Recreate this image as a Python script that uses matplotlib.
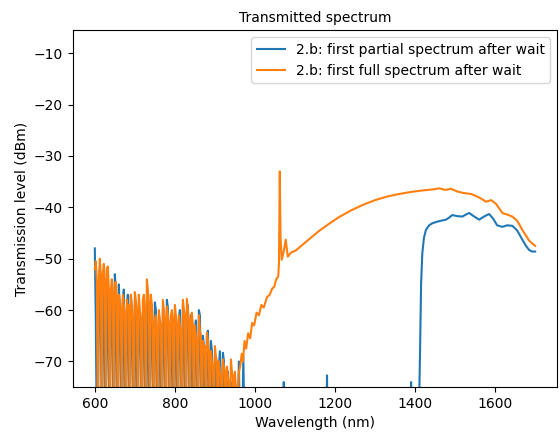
import numpy as np
import matplotlib
matplotlib.use("Agg")
import matplotlib.pyplot as plt

# noisy short-wavelength part, sampled every 2.5 nm from 600 to 960 nm
noise_wl = np.arange(600, 960.1, 2.5)

partial_noise = [
    -48, -62, -85, -88, -56, -52, -66, -80, -54, -57,
    -78, -84, -55, -58, -73, -82, -59, -56, -70, -85,
    -53, -56, -76, -86, -55, -60, -71, -83, -58, -56,
    -79, -87, -60, -57, -72, -81, -57.3, -60, -75, -88,
    -59, -61, -77, -84, -60, -62, -70, -85, -61, -59,
    -72, -86, -60, -58, -77, -82, -61, -59, -74, -87,
    -58.5, -60, -73, -83, -61, -63, -79, -85, -60, -61,
    -74, -84, -58, -59.5, -70, -86, -62, -64, -76, -81,
    -61, -63, -78, -85, -62, -60, -72, -88, -59, -61,
    -74, -82, -60, -59, -71, -87, -61, -63, -79, -84,
    -64, -62, -75, -86, -60, -61, -73, -83, -65, -67,
    -81, -85, -65, -64, -76, -88, -66, -68, -80, -84,
    -69, -70, -82, -87, -71, -68, -79, -85, -68.3, -70,
    -80, -86, -73, -72, -84, -88, -74, -77, -85, -89,
    -80, -86, -88, -78, -70]

full_noise = [
    -52, -50.5, -54, -81, -55, -50, -53, -84, -53, -51,
    -55, -79, -52, -51.5, -56, -86, -56, -54, -57, -82,
    -55, -54.5, -58, -88, -57, -58, -60, -80, -57, -59,
    -61, -85, -58, -60, -59, -83, -57, -59, -62, -87,
    -56.5, -58, -60, -82, -57, -60, -62, -86, -58, -57,
    -60, -84, -54, -56, -59, -80, -57, -59, -63, -88,
    -62, -61, -64, -84, -60, -62, -63, -81, -58, -60,
    -62, -86, -59.3, -61, -63, -82, -61, -60, -62, -85,
    -59, -61, -63, -80, -61, -63, -64, -87, -58, -60,
    -61, -83, -57.8, -60, -62, -84, -62, -60.5, -63, -86,
    -63, -65, -66, -82, -61, -64, -65, -88, -66, -68,
    -67, -84, -64.4, -66, -68, -85, -68, -70, -71, -83,
    -67, -69, -70, -86, -70, -72, -73, -84, -69.6, -71,
    -72, -87, -71, -73, -74, -85, -69.6, -72, -73, -84,
    -72, -75, -82, -79, -72]

# partial spectrum after the noisy part (mostly below the visible floor)
partial_wl = [962.5, 968, 971, 974, 1000, 1070, 1072, 1074, 1178, 1180, 1182,
              1388, 1390, 1392, 1394, 1396, 1408, 1412, 1415, 1418, 1422, 1427, 1435,
              1443, 1455, 1465, 1477, 1485, 1493, 1505, 1518, 1527, 1535, 1548, 1560,
              1572, 1585, 1595, 1605, 1618, 1630, 1643, 1655, 1668, 1677, 1685, 1692, 1700]
partial_val = [-86, -85, -69, -86, -86, -86, -74, -86, -86, -72.7, -86,
               -86, -74, -86, -75.5, -86, -86, -70, -55, -49, -46, -44.4, -43.5,
               -43.1, -42.8, -42.6, -42.4, -42, -41.5, -41.7, -41.8, -41.4, -41.1, -41.8, -42.4,
               -41.8, -41.3, -42.2, -43.5, -43.8, -43.5, -43.6, -44.5, -46.3, -47.5, -48.3, -48.6, -48.6]

# full spectrum after the noisy part
full_wl = [963, 967, 970, 974, 978, 983, 988, 993, 998, 1004, 1010, 1016, 1022, 1030,
           1037, 1043, 1048, 1053, 1058, 1060, 1062, 1064, 1067, 1072, 1077, 1082, 1090,
           1102, 1120, 1140, 1160, 1185, 1210, 1240, 1270, 1300, 1330, 1360, 1390, 1420,
           1445, 1460, 1475, 1490, 1505, 1520, 1540, 1555, 1565, 1577, 1590, 1602, 1618,
           1630, 1643, 1655, 1668, 1685, 1700]
full_val = [-71, -68.5, -70, -66, -67.5, -64.5, -65.5, -62.5, -63, -60.5, -61, -59, -59.5, -57.5,
            -57, -55.8, -55.5, -54, -53.5, -51, -33, -46, -50.2, -48.5, -46.3, -49.6, -48.8,
            -48.4, -47.2, -45.9, -44.6, -43.2, -41.9, -40.6, -39.5, -38.6, -37.9, -37.4, -37.0, -36.7,
            -36.5, -36.3, -36.6, -36.4, -36.9, -37.2, -37.4, -37.9, -38.3, -38.9, -38.6, -39.3, -41.1,
            -41.4, -41.8, -42.6, -44.4, -46.5, -47.5]

x_partial = np.concatenate([noise_wl, partial_wl])
y_partial = np.concatenate([partial_noise, partial_val])
x_full = np.concatenate([noise_wl, full_wl])
y_full = np.concatenate([full_noise, full_val])

fig, ax = plt.subplots(figsize=(5.6, 4.36), dpi=100)
fig.subplots_adjust(left=0.130, right=0.995, bottom=0.112, top=0.931)

ax.plot(x_partial, y_partial, label="2.b: first partial spectrum after wait")
ax.plot(x_full, y_full, label="2.b: first full spectrum after wait")

ax.set_xlim(545, 1755)
ax.set_ylim(-75, -5.5)
ax.set_title("Transmitted spectrum", fontsize=10)
ax.set_xlabel("Wavelength (nm)")
ax.set_ylabel("Transmission level (dBm)")
ax.legend(loc="upper right")

fig.savefig("out.png", dpi=100)
